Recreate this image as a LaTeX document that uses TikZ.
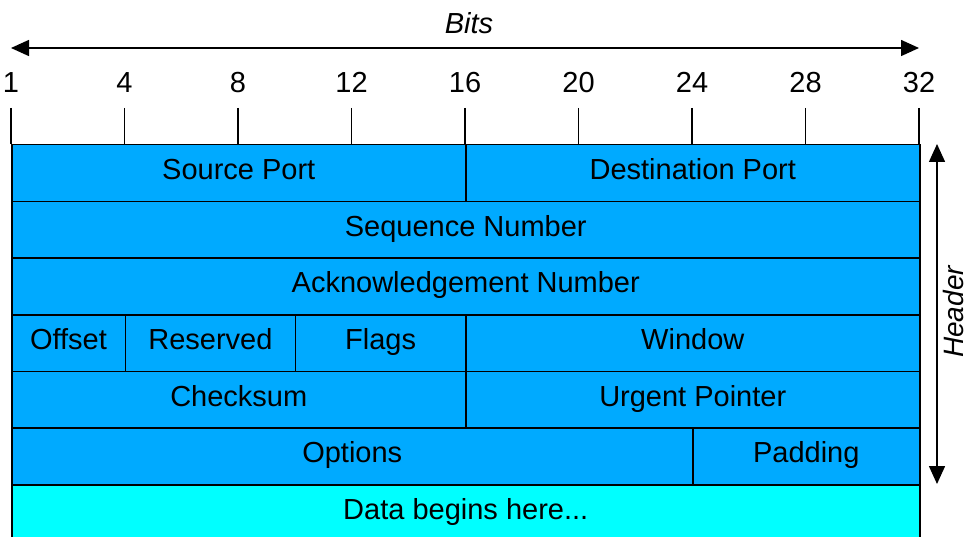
\documentclass[tikz,border=0pt]{standalone}
\usepackage{fontspec}
\setmainfont{Liberation Sans}
\usetikzlibrary{arrows.meta}
\definecolor{hdrblue}{RGB}{0,170,255}
\definecolor{datacyan}{RGB}{0,255,255}
\tikzset{
  field/.style={draw=black, line width=1.5pt, fill=hdrblue, inner sep=0pt, anchor=north west,
    minimum height=56.7pt, text height=21pt, text depth=8pt,
    font=\fontsize{29}{33}\selectfont, text=black},
  datafield/.style={field, fill=datacyan},
  tick/.style={line width=1.5pt},
  ticklabel/.style={font=\fontsize{29}{33}\selectfont, inner sep=0pt, anchor=base},
  dimarrow/.style={line width=1.5pt, {Triangle[length=18pt,width=16pt]}-{Triangle[length=18pt,width=16pt]}},
  dimlabel/.style={font=\itshape\fontsize{29}{33}\selectfont, inner sep=0pt, anchor=base}
}
\begin{document}
\begin{tikzpicture}[x=1pt,y=-1pt]
\useasboundingbox (0,0) rectangle (968,537);
% rows
\node[field, minimum width=454pt] (src) at (11,144) {Source Port};
\node[field, minimum width=454pt] (dst) at (465,144) {Destination Port};
\node[field, minimum width=908pt] (seq) at (11,200.7) {Sequence Number};
\node[field, minimum width=908pt] (ack) at (11,257.3) {Acknowledgement Number};
\node[field, minimum width=113.5pt] (off) at (11,314) {Offset};
\node[field, minimum width=170.25pt] (res) at (124.5,314) {Reserved};
\node[field, minimum width=170.25pt] (flg) at (294.75,314) {Flags};
\node[field, minimum width=454pt] (win) at (465,314) {Window};
\node[field, minimum width=454pt] (chk) at (11,370.7) {Checksum};
\node[field, minimum width=454pt] (urg) at (465,370.7) {Urgent Pointer};
\node[field, minimum width=681pt] (opt) at (11,427.3) {Options};
\node[field, minimum width=227pt] (pad) at (692,427.3) {Padding};
\node[datafield, minimum width=908pt, minimum height=60pt, text depth=11pt] (dat) at (11,484) {Data begins here...};
% ticks
\foreach \n/\lab in {0/1,4/4,8/8,12/12,16/16,20/20,24/24,28/28,32/32}{
  \coordinate (t\n) at ({11+\n*28.375},108);
  \draw[tick] (t\n) -- ({11+\n*28.375},144);
  \node[ticklabel] (l\n) at ({11+\n*28.375},93) {\lab};
}
% bits arrow
\coordinate (bl) at (11,48);
\coordinate (br) at (919,48);
\draw[dimarrow] (bl) -- (br);
\node[dimlabel] (bits) at (469,34) {Bits};
% header arrow
\coordinate (ht) at (937,144);
\coordinate (hb) at (937,484);
\draw[dimarrow] (ht) -- (hb);
\node[dimlabel, rotate=90, font=\itshape\fontsize{28}{32}\selectfont] (hdr) at (963,312) {Header};
\end{tikzpicture}
\end{document}
